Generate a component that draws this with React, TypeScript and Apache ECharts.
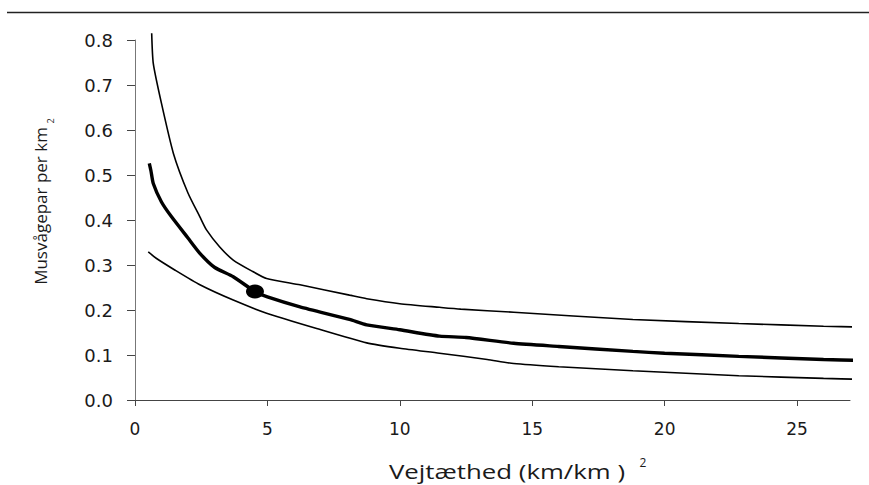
import React, { useEffect, useRef } from "react";
import * as echarts from "echarts";

const upperX = [0.63, 0.69, 1.0, 1.45, 2.0, 2.45, 2.7, 3.2, 3.71, 4.4, 4.97, 6.23, 8.1, 8.75, 10, 11.5, 12.3, 14.3, 18.8, 22.8, 26, 27.4];
const upperY = [0.815, 0.748, 0.659, 0.548, 0.46, 0.407, 0.378, 0.34, 0.311, 0.287, 0.27, 0.256, 0.233, 0.225, 0.214, 0.206, 0.202, 0.195, 0.179, 0.17, 0.164, 0.162];

const middleX = [0.54, 0.6, 0.69, 1.0, 1.38, 2.0, 2.45, 3.0, 3.71, 4.53, 5.0, 6.23, 8.1, 8.75, 10, 11.5, 12.5, 14.3, 16, 18.8, 20, 22.8, 26, 27.4];
const middleY = [0.526, 0.51, 0.481, 0.44, 0.407, 0.36, 0.326, 0.295, 0.274, 0.241, 0.229, 0.207, 0.179, 0.167, 0.156, 0.142, 0.139, 0.126, 0.119, 0.108, 0.104, 0.097, 0.09, 0.088];

const lowerX = [0.5, 0.8, 1.5, 2.45, 3.71, 4.97, 6.86, 8.75, 10, 11.5, 13.3, 14.3, 16, 18.8, 22.8, 26, 27.4];
const lowerY = [0.329, 0.315, 0.289, 0.256, 0.222, 0.193, 0.159, 0.127, 0.115, 0.104, 0.09, 0.081, 0.074, 0.065, 0.054, 0.048, 0.046];

const markerPoint = [4.53, 0.241];

const xTicks = [0, 5, 10, 15, 20, 25];
const xTitle = "Vejtæthed (km/km )";
const yTitle = "Musvågepar per km";

const zip = (xs: number[], ys: number[]) => xs.map((x, i) => [x, ys[i]]);

export default function App() {
  const ref = useRef<HTMLDivElement>(null);
  useEffect(() => {
    if (!ref.current) return;
    const chart = echarts.init(ref.current, null, { renderer: "svg" });
    const textColor = "#1a1a1a";
    const tickFont = "'DejaVu Sans', sans-serif";
    const titleFont = "'Open Sans', sans-serif";
    chart.setOption({
      animation: false,
      backgroundColor: "#ffffff",
      grid: { left: 135, right: 19, top: 40, bottom: 85, containLabel: false },
      xAxis: {
        type: "value",
        min: 0,
        max: 27,
        interval: 5,
        splitLine: { show: false },
        axisLine: { show: true, lineStyle: { color: "#444", width: 1 } },
        axisTick: { show: true, length: 6, inside: false, lineStyle: { color: "#444" }, customValues: xTicks },
        axisLabel: { show: true, margin: 20, fontSize: 17, color: textColor, fontFamily: tickFont, customValues: xTicks },
      },
      yAxis: {
        type: "value",
        min: 0,
        max: 0.8,
        interval: 0.1,
        splitLine: { show: false },
        axisLine: { show: true, lineStyle: { color: "#777", width: 1 } },
        axisTick: { show: true, length: 8, lineStyle: { color: "#444" } },
        axisLabel: {
          margin: 22,
          fontSize: 18,
          color: textColor,
          fontFamily: tickFont,
          formatter: (v: number) => v.toFixed(1),
        },
      },
      series: [
        {
          type: "line",
          data: zip(upperX, upperY),
          showSymbol: false,
          smooth: 0.2,
          clip: false,
          lineStyle: { color: "#000", width: 1.6 },
        },
        {
          type: "line",
          data: zip(middleX, middleY),
          showSymbol: false,
          smooth: 0.2,
          clip: false,
          lineStyle: { color: "#000", width: 3.4 },
        },
        {
          type: "line",
          data: zip(lowerX, lowerY),
          showSymbol: false,
          smooth: 0.2,
          clip: false,
          lineStyle: { color: "#000", width: 1.6 },
        },
        {
          type: "scatter",
          data: [markerPoint],
          symbol: "circle",
          symbolSize: [18, 14],
          itemStyle: { color: "#000", opacity: 1 },
          z: 5,
        },
      ],
      graphic: [
        {
          type: "line",
          shape: { x1: 7, y1: 12.5, x2: 869, y2: 12.5 },
          style: { stroke: "#222", lineWidth: 1.3 },
        },
        {
          type: "text",
          x: 507,
          y: 471,
          scaleX: 1.29,
          style: {
            text: xTitle,
            fontSize: 20,
            fontFamily: titleFont,
            fill: textColor,
            textAlign: "center",
            textVerticalAlign: "middle",
          },
        },
        {
          type: "text",
          x: 643,
          y: 462,
          style: {
            text: "2",
            fontSize: 12,
            fontFamily: titleFont,
            fill: textColor,
            textAlign: "center",
            textVerticalAlign: "middle",
          },
        },
        {
          type: "text",
          x: 40,
          y: 206,
          rotation: Math.PI / 2,
          style: {
            text: yTitle,
            fontSize: 17,
            fontFamily: titleFont,
            fill: textColor,
            textAlign: "center",
            textVerticalAlign: "middle",
          },
        },
        {
          type: "text",
          x: 50,
          y: 121,
          rotation: Math.PI / 2,
          style: {
            text: "2",
            fontSize: 9,
            fontFamily: titleFont,
            fill: textColor,
            textAlign: "center",
            textVerticalAlign: "middle",
          },
        },
      ],
    });
    return () => chart.dispose();
  }, []);
  return (
    <div
      ref={ref}
      style={{ position: "fixed", left: 0, top: 0, width: 869, height: 485 }}
    />
  );
}
